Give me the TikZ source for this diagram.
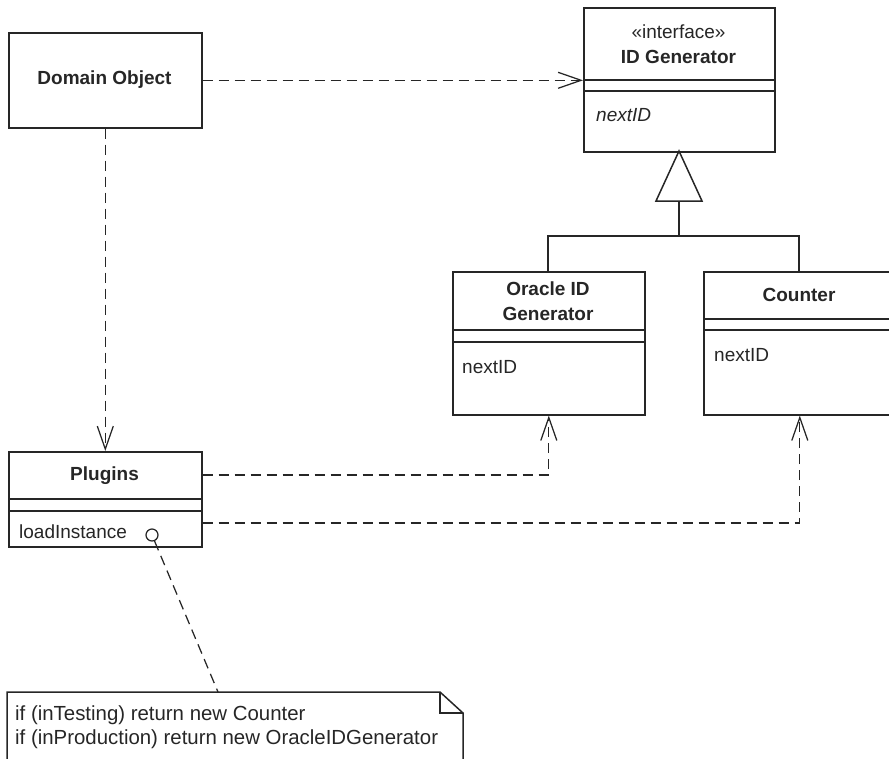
\documentclass[tikz,border=0pt]{standalone}
\usepackage{fontspec}
\setmainfont{Liberation Sans}
\usetikzlibrary{arrows.meta}
\definecolor{ink}{HTML}{262626}
\tikzset{
  box/.style={draw=ink, line width=1.6pt, inner sep=0pt, anchor=north west},
  sep/.style={draw=ink, line width=1.6pt},
  dep/.style={draw=ink, line width=1.25pt, dash pattern=on 10pt off 6pt,
    -{Straight Barb[length=23pt,width=16pt,line width=1.25pt]}},
  depline/.style={draw=ink, line width=1.25pt, dash pattern=on 10pt off 6pt},
  gen/.style={draw=ink, line width=1.5pt},
  txt/.style={inner sep=0pt, text=ink, font=\fontsize{19}{25}\selectfont},
  ntxt/.style={inner sep=0pt, text=ink, font=\fontsize{20.4}{25}\selectfont},
  btxt/.style={inner sep=0pt, text=ink, font=\fontsize{19}{25}\selectfont\bfseries, align=center},
}
\begin{document}
\begin{tikzpicture}[x=1pt,y=-1pt]
\useasboundingbox (0,0) rectangle (889,758);
\clip (0,0) rectangle (889,758);

% Domain Object
\node[box, minimum width=193pt, minimum height=95pt] (dom) at (8,32) {};
\node[btxt] (domt) at (104.5,80) {Domain Object};

% ID Generator
\node[box, minimum width=191pt, minimum height=144pt] (idg) at (583,7) {};
\draw[sep] (583,80) -- (774,80);
\draw[sep] (583,91) -- (774,91);
\node[txt] (idgs) at (678.5,32) {«interface»};
\node[btxt] (idgt) at (678.5,57) {ID Generator};
\node[txt, anchor=west, font=\fontsize{19}{25}\selectfont\itshape] (idgm) at (596,115) {nextID};

% Oracle ID Generator
\node[box, minimum width=192pt, minimum height=143pt] (ora) at (452,271) {};
\draw[sep] (452,330) -- (644,330);
\draw[sep] (452,342) -- (644,342);
\node[btxt] (orat) at (548,301) {Oracle ID\\Generator};
\node[txt, anchor=west] (oram) at (462,367) {nextID};

% Counter
\node[box, minimum width=192pt, minimum height=143pt] (cnt) at (703,271) {};
\draw[sep] (703,319) -- (895,319);
\draw[sep] (703,330) -- (895,330);
\node[btxt] (cntt) at (799,295) {Counter};
\node[txt, anchor=west] (cntm) at (714,355) {nextID};

% Plugins
\node[box, minimum width=193pt, minimum height=95pt] (plg) at (8,451) {};
\draw[sep] (8,499) -- (201,499);
\draw[sep] (8,511) -- (201,511);
\node[btxt] (plgt) at (104.5,476) {Plugins};
\node[txt, anchor=west] (plgm) at (19,532) {loadInstance};
\node[draw=ink, line width=1.25pt, circle, minimum size=12pt, inner sep=0pt] (circ) at (152,535) {};

% Note
\draw[gen] (7,800) -- (7,692) -- (440,692) -- (463,713) -- (463,800);
\draw[gen] (440,692) -- (440,713) -- (463,713);
\coordinate (notetop) at (218,692);
\node[ntxt, anchor=west] (n1) at (15,715) {if (inTesting) return new Counter};
\node[ntxt, anchor=west] (n2) at (15,739) {if (inProduction) return new OracleIDGenerator};

% Generalization
\coordinate (apex) at (679,151);
\draw[gen] (apex) -- (656,201) -- (702,201) -- cycle;
\coordinate (gj) at (679,236);
\draw[gen] (679,201) -- (gj);
\draw[gen] (548,271) -- (548,236) -- (799,236) -- (799,271);

% Dependencies
\draw[dep] (dom.east) -- (dom.east -| idg.west);
\draw[dep] (dom.south) -- (plg.north);
\draw[dep] (plg.east |- 0,475) -| (ora.south);
\draw[dep] (plg.east |- 0,523) -| (cnt.south);
\draw[depline] (circ) -- (notetop);
\end{tikzpicture}
\end{document}
